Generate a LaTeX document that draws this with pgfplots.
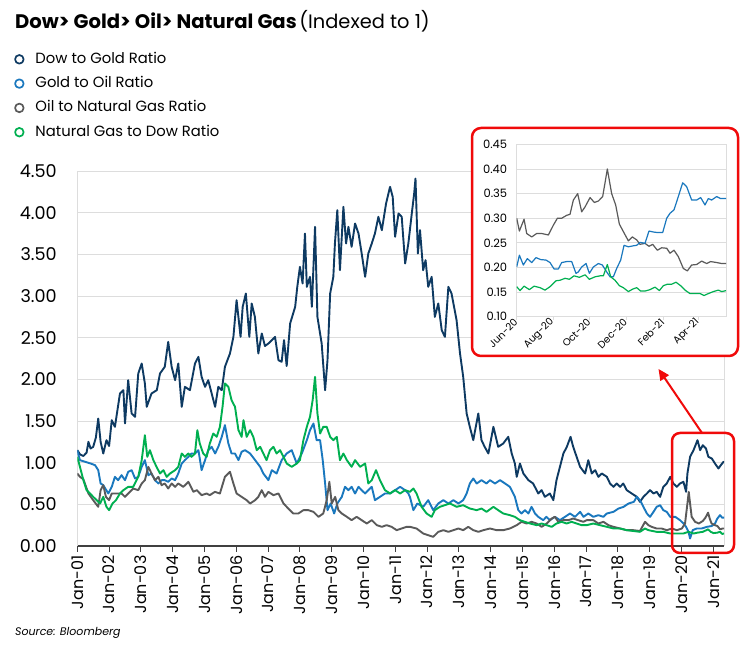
\documentclass[border=0pt]{standalone}
\usepackage{fontspec}
\setmainfont{Poppins}
\usepackage{pgfplots}
\pgfplotsset{compat=1.18}
\usetikzlibrary{arrows.meta}
\definecolor{navy}{HTML}{0E3A62}
\definecolor{gblue}{HTML}{1A78BE}
\definecolor{ggray}{HTML}{5A5A5A}
\definecolor{ggreen}{HTML}{00AF50}
\definecolor{gridc}{HTML}{DDDDDD}
\definecolor{redc}{HTML}{F00A0A}
\begin{document}
\begin{tikzpicture}
\useasboundingbox (0pt,0pt) rectangle (750pt,648pt);
\node[anchor=base west, inner sep=0pt] at (15pt,619.7pt) {{\bfseries\fontsize{19.6}{22}\selectfont Dow> Gold> Oil> Natural Gas} {\fontsize{19.4}{22}\selectfont(Indexed to 1)}};
\node[anchor=base west, inner sep=0pt] at (15pt,12pt) {\fontsize{11}{13}\selectfont\itshape Source: Bloomberg};
\begin{axis}[
  at={(77.3pt,102pt)}, anchor=south west, scale only axis,
  width=646.7pt, height=375pt,
  xmin=0, xmax=244, ymin=0, ymax=4.5,
  /pgf/number format/assume math mode=true,
  axis x line*=bottom, axis y line*=left,
  x axis line style={black!75, line width=1.2pt},
  y axis line style={gridc, line width=0.9pt},
  ytick={0,0.5,...,4.5},
  yticklabel={\pgfmathprintnumber[fixed,fixed zerofill,precision=2]{\tick}},
  yticklabel style={font=\fontsize{17.6}{20}\selectfont, xshift=-11pt},
  ytick style={draw=none},
  ymajorgrids, major grid style={gridc, line width=0.9pt},
  xtick={0,12,...,240},
  xticklabels={Jan-01,Jan-02,Jan-03,Jan-04,Jan-05,Jan-06,Jan-07,Jan-08,Jan-09,Jan-10,Jan-11,Jan-12,Jan-13,Jan-14,Jan-15,Jan-16,Jan-17,Jan-18,Jan-19,Jan-20,Jan-21},
  xticklabel style={rotate=90, anchor=east, font=\fontsize{16}{18}\selectfont},
  xtick style={black!75, line width=1pt},
  tick align=outside, major tick length=6pt,
  extra x ticks={244}, extra x tick labels={},
  extra x tick style={xmajorgrids=true, major tick length=0pt, major grid style={gridc, line width=0.9pt}},
  legend style={at={(-0.0979,1.317)}, anchor=north west, draw=none, fill=none, inner sep=0pt, row sep=10.3pt,
    font=\fontsize{14.8}{16}\selectfont, nodes={inner sep=0pt, text height=11pt, text depth=3pt},
    /tikz/every odd column/.append style={column sep=11pt}},
  legend cell align=left,
  legend image code/.code={\draw[line width=1.7pt] (5pt,0pt) circle (4.3pt);},
  every axis plot/.append style={line width=1.9pt, line join=round},
]
\addplot[navy, mark=none] table {
0 1.15
1 1.10
2.3 1.08
3.5 1.12
4.2 1.25
5 1.17
6 1.19
7 1.30
7.9 1.53
8.8 1.25
9.8 1.11
11 1.27
12 1.20
13 1.51
14.2 1.43
15 1.60
16.1 1.83
17.4 1.87
18 1.47
19.2 1.99
20.5 1.59
21.8 1.55
23 2.07
24.3 2.19
25.5 1.95
26.2 1.67
28 1.83
30 1.87
31.2 2.07
33 2.15
34.3 2.45
35.6 2.15
36.9 1.99
38.1 2.19
39.4 1.67
40.6 1.91
42.5 1.87
44.4 2.19
45.7 2.27
46.9 2.03
48.2 1.91
49.4 1.99
50.7 1.83
52 1.67
53.2 1.91
54.5 1.87
55.7 2.15
57.6 2.31
58.9 2.51
60.1 2.95
61.6 2.51
62.4 2.87
63.6 3.03
64.9 2.51
65.8 2.91
67 2.75
68.3 2.31
69.6 2.55
70.8 2.40
72.1 2.43
73.4 2.47
74.6 2.51
75.9 2.23
77.1 2.21
78 2.47
79 2.16
80.3 2.67
82.2 2.87
83 3.11
84 3.35
85 3.15
85.9 3.75
86.6 3.11
87.8 3.23
88.5 2.87
89.7 3.83
90.6 2.75
92.2 2.43
93.5 1.87
94.4 2.23
95.4 3.03
96.6 3.23
97.2 3.63
98.1 4.03
99.1 3.31
100.4 4.07
101.4 3.63
102.3 3.83
103.5 3.59
104.8 3.87
106.1 3.75
107.3 3.51
108.6 3.23
109.8 3.51
111.1 3.63
112.3 3.75
113.6 3.95
114.9 3.79
116.5 4.11
118 4.31
119 4.19
119.9 3.71
121.2 3.99
122.4 3.95
123.7 3.39
124.9 3.63
126.2 3.99
127.1 4.23
127.6 4.41
128.5 3.51
129.3 3.79
130.5 3.31
131.4 3.43
132.4 3.11
133.7 3.23
134.9 2.75
136.2 2.91
137.5 2.59
138.7 2.51
140 3.11
141.2 3.03
143.1 2.71
144.4 2.31
145.6 2.03
146.9 1.59
148.1 1.43
149.4 1.27
151.3 1.59
152.5 1.27
153.7 1.19
155.1 1.11
157 1.43
158.8 1.19
160.7 1.23
162.6 1.31
163.9 1.11
165.1 0.99
165.8 0.83
167 0.99
168.3 0.87
170.2 0.79
172 0.75
173.9 0.63
175.2 0.67
176.4 0.59
178.3 0.63
179.6 0.55
180.8 0.79
182.1 0.95
183.4 1.11
184.7 1.19
186.1 1.31
187.1 1.19
188.4 1.07
189.7 0.95
191.6 0.87
192.8 1.03
194.1 0.87
195.4 0.91
196.6 0.83
197.9 0.87
199.8 0.83
201 0.75
202.3 0.71
203.5 0.75
204.8 0.71
206 0.75
207.3 0.67
209.2 0.63
211.1 0.59
212.3 0.53
213.6 0.59
214.9 0.63
216.1 0.67
217.4 0.63
218.6 0.65
219.9 0.59
221.1 0.71
222.4 0.75
223.7 0.83
224.9 0.75
226.2 0.71
227.4 0.75
228.7 0.77
229.7 0.65
230.2 0.87
231.2 1.07
232.5 1.15
234 1.27
235 1.15
236 1.21
237.2 1.17
238.1 1.07
239.4 1.05
240.6 0.99
241.9 0.93
242.8 0.97
243.8 1.01
244 1.00
};
\addlegendentry{Dow to Gold Ratio}
\addplot[gblue, mark=none] table {
0 1.15
1 1.03
3 1.01
5 0.99
6.7 0.97
7.9 0.91
8.8 0.75
9.8 0.73
11.7 0.63
13 0.71
14.2 0.83
15.4 0.79
16.7 0.85
18 0.79
19.2 0.89
20.5 0.91
21.8 0.81
23 0.83
24.3 0.95
25.5 1.03
26.8 0.85
28 0.87
29.3 0.79
30.6 0.75
31.8 0.79
33 0.79
34.3 0.77
35.6 0.81
36.9 0.79
38.1 0.87
39.4 0.99
40.6 1.03
41.9 1.07
43.1 1.11
44.4 1.11
45.7 1.15
46.9 0.91
48.2 1.03
49.4 1.15
50.7 1.19
52 1.11
53.2 1.19
54.5 1.31
55.7 1.45
57 1.23
58.2 1.11
59.5 1.11
60.8 1.03
62 1.13
63.3 1.15
65.2 1.11
67.1 1.03
69 0.95
70.2 0.87
72.1 0.79
73.4 0.91
75.2 0.87
77.1 1.03
79 1.11
80.9 1.15
82.8 0.99
84.7 1.11
86.6 1.27
87.8 1.39
89.1 1.47
90.3 1.27
91.6 1.27
92.6 1.03
93.5 0.75
94.4 0.43
95.6 0.51
96.9 0.39
98.1 0.51
99.8 0.59
101 0.71
102.3 0.67
103.5 0.71
104.8 0.63
106.1 0.71
107.3 0.67
108.6 0.63
109.8 0.67
111.1 0.71
112.3 0.55
114.2 0.59
116.1 0.63
118 0.63
119.9 0.67
121.8 0.71
123.7 0.67
124.9 0.63
125.5 0.59
126.8 0.43
128.3 0.51
130.5 0.47
132.4 0.55
134.3 0.43
136.2 0.51
138.1 0.55
140 0.51
141.9 0.55
143.8 0.51
145.6 0.55
146.9 0.63
148.1 0.75
149.4 0.81
150.7 0.75
152.5 0.79
154.4 0.75
155.7 0.79
157.6 0.75
159.5 0.79
161.4 0.75
163.2 0.71
165.1 0.59
166.4 0.43
167.6 0.39
168.9 0.43
170.2 0.39
171.4 0.47
172.7 0.39
173.9 0.35
175.8 0.31
177 0.35
178.3 0.31
180.2 0.35
182.1 0.31
184 0.35
185.9 0.39
187.8 0.35
189.7 0.41
191 0.35
192.8 0.39
194.7 0.35
196.6 0.37
198.5 0.35
199.8 0.39
202.3 0.41
204.2 0.45
206.1 0.47
208 0.51
210 0.53
211.1 0.59
212.3 0.55
213.6 0.47
214.9 0.39
216.1 0.35
217.4 0.41
218.6 0.47
219.9 0.49
221.1 0.43
222.4 0.41
223.7 0.35
225.6 0.35
227.4 0.31
228.7 0.27
229.7 0.23
230.6 0.17
231.2 0.09
232.2 0.19
233.7 0.21
235.6 0.21
237.5 0.23
239.4 0.24
240.6 0.27
241.5 0.33
242.5 0.37
243.3 0.34
244 0.34
};
\addlegendentry{Gold to Oil Ratio}
\addplot[ggray, mark=none] table {
0 0.87
1 0.83
2.3 0.80
4.2 0.63
6 0.55
7.9 0.47
8.8 0.67
9.8 0.73
10.8 0.59
12 0.55
13 0.63
14.8 0.63
16.7 0.63
18 0.59
19.2 0.63
21.1 0.69
23 0.67
24.3 0.75
25.5 0.79
26.8 0.95
28 0.87
29.3 0.79
30.6 0.83
31.8 0.73
33 0.75
34.3 0.69
35.6 0.75
36.9 0.71
38.1 0.75
40 0.71
41.9 0.77
43.8 0.65
45.1 0.67
46.9 0.61
48.8 0.63
50 0.61
51.9 0.65
53.8 0.63
55.7 0.83
57.6 0.89
58.9 0.75
60.1 0.63
62 0.59
63.9 0.55
65.2 0.51
67.1 0.55
68.3 0.59
69.6 0.67
70.8 0.59
72.1 0.65
74 0.61
75.9 0.63
77.8 0.51
79.6 0.45
81.5 0.39
83.4 0.39
85.3 0.43
87.2 0.43
89.1 0.41
91 0.35
92.8 0.39
94.1 0.55
95.1 0.77
96 0.51
97.3 0.59
98.5 0.43
99.8 0.39
101.7 0.35
103.5 0.31
105.4 0.35
107.3 0.31
109.2 0.27
111.1 0.31
113 0.25
114.9 0.23
116.7 0.25
118.6 0.23
120.5 0.19
122.4 0.21
124.3 0.23
125.5 0.23
128 0.21
130.5 0.15
132.4 0.13
134.3 0.11
136.2 0.17
138.1 0.19
140 0.17
141.9 0.19
143.8 0.21
145.6 0.19
147.5 0.23
149.4 0.19
151.3 0.17
153.2 0.19
155.7 0.21
158.2 0.19
160.7 0.19
163.2 0.21
165.8 0.25
167.6 0.29
169.5 0.27
171.4 0.29
173.3 0.27
175.2 0.23
177.1 0.27
179 0.33
180.2 0.35
181.5 0.29
183.4 0.31
185.3 0.31
187.1 0.33
189 0.31
190.9 0.29
192.2 0.31
194.7 0.31
196.6 0.27
198.5 0.29
200.4 0.25
202.3 0.23
204.8 0.21
207.3 0.19
209.8 0.19
212.3 0.18
214.2 0.29
215.5 0.25
216.7 0.23
218.6 0.21
220.5 0.21
222.4 0.19
224.3 0.21
226.2 0.19
228.1 0.21
229.3 0.27
230.2 0.51
230.7 0.65
231.2 0.51
231.8 0.35
233.1 0.29
234.5 0.27
236 0.30
237 0.34
238 0.40
238.6 0.33
239.3 0.27
240.5 0.25
241.5 0.24
242.5 0.20
243.5 0.21
244 0.21
};
\addlegendentry{Oil to Natural Gas Ratio}
\addplot[ggreen, mark=none] table {
0 1.07
1 0.95
2.3 0.79
3.5 0.67
4.8 0.63
6 0.59
7.3 0.55
8.6 0.51
9.8 0.59
11 0.47
12 0.43
13.3 0.51
14.6 0.55
16.1 0.63
17.4 0.67
19.2 0.71
21.1 0.71
23 0.83
24.3 1.03
25.5 1.33
26.4 1.07
27.4 1.15
28.7 1.03
29.9 0.95
31.2 0.87
32.5 0.91
33.7 0.83
35 0.87
36.9 0.91
38.1 0.95
39.4 1.11
40.6 1.07
41.9 1.11
43.1 1.07
44.4 1.11
45.3 1.39
46.2 1.23
47.5 1.11
48.8 1.07
50 1.23
51.3 1.35
52.6 1.31
53.8 1.43
54.8 1.67
55.7 1.95
57 1.91
58.2 1.75
59.5 1.67
60.8 1.39
62 1.31
62.7 1.51
63.9 1.31
65.2 1.39
66.4 1.31
67.7 1.15
69 1.19
70.2 1.11
71.4 1.03
72.7 1.15
74 1.19
75.2 1.11
76.5 1.15
77.8 1.07
79 0.99
80.9 0.95
82.8 0.99
84 1.03
85.3 1.27
86.6 1.43
87.8 1.55
88.8 1.75
89.7 2.03
90.6 1.59
91.6 1.35
92.8 1.43
94.1 1.43
95.4 1.31
96.6 1.27
97.9 1.31
99.1 1.03
100.4 1.11
101.7 1.03
103.5 0.95
104.8 1.03
106.7 0.95
108.6 0.99
109.8 0.75
111.1 0.79
112.7 0.91
114.2 0.79
116.1 0.67
118 0.63
119.9 0.67
121.8 0.63
123.7 0.67
125.5 0.65
126.8 0.69
128 0.63
129.9 0.47
131.8 0.39
133.7 0.35
134.9 0.43
136.8 0.47
138.7 0.49
140.6 0.51
143.1 0.47
145.6 0.49
148.1 0.45
150.7 0.43
152.5 0.45
154.4 0.41
157 0.47
158.8 0.43
160.7 0.39
163.2 0.37
165.1 0.35
167 0.31
168.9 0.29
170.8 0.27
173.3 0.25
175.2 0.27
177.1 0.25
179 0.23
180.8 0.27
182.7 0.29
184.6 0.27
186.5 0.29
188.4 0.27
190.3 0.25
192.2 0.25
194.7 0.27
197.2 0.25
199.8 0.23
202.3 0.21
204.8 0.21
207.3 0.19
209.8 0.18
212.3 0.17
214.2 0.21
215.5 0.19
218.6 0.17
221.1 0.17
223.7 0.15
226.2 0.15
228.7 0.15
230.6 0.17
232.5 0.15
234 0.16
236 0.17
238 0.20
239 0.17
240 0.155
241.5 0.16
242.5 0.17
243.3 0.145
244 0.15
};
\addlegendentry{Natural Gas to Dow Ratio}
\end{axis}
% inset frame
\draw[redc, line width=2.5pt, rounded corners=9pt, fill=white] (472pt,292pt) rectangle (738pt,520pt);
\draw[redc, line width=2.5pt, rounded corners=8pt] (672pt,95pt) rectangle (734pt,215pt);
\draw[redc, line width=2pt, -{Triangle[length=11pt,width=10pt]}] (702pt,215pt) -- (658.5pt,279pt);
\begin{axis}[
  at={(516.7pt,331.3pt)}, anchor=south west, scale only axis,
  width=209.3pt, height=172.3pt,
  xmin=0, xmax=349.8, ymin=0.10, ymax=0.45,
  /pgf/number format/assume math mode=true,
  axis line style={gridc, line width=0.8pt},
  ytick={0.10,0.15,...,0.45},
  yticklabel={\pgfmathprintnumber[fixed,fixed zerofill,precision=2]{\tick}},
  yticklabel style={font=\fontsize{11.5}{14}\selectfont, xshift=-3pt},
  ytick style={draw=none},
  ymajorgrids, major grid style={gridc, line width=0.8pt},
  xtick={0,61,122,183,245,304},
  xticklabels={Jun-20,Aug-20,Oct-20,Dec-20,Feb-21,Apr-21},
  xticklabel style={rotate=45, anchor=east, font=\fontsize{10}{12}\selectfont, inner sep=1pt},
  xtick style={gridc, line width=0.8pt},
  tick align=outside, major tick length=3pt,
  xtick pos=bottom,
  every axis plot/.append style={line width=1.2pt, line join=round},
]
\addplot[ggray, mark=none] table {
0 0.30
4.5 0.274
12.3 0.298
16.7 0.269
25.1 0.262
33.4 0.269
41.8 0.269
52.9 0.266
61.3 0.286
68 0.30
75.2 0.30
83.6 0.306
89.1 0.308
94.7 0.337
101.9 0.35
108.6 0.313
114.2 0.323
122.6 0.342
129.8 0.332
136.5 0.335
143.7 0.344
151.5 0.40
158.7 0.35
165.4 0.327
171.6 0.288
178.2 0.273
186.6 0.254
193.3 0.262
200.5 0.256
206.1 0.247
214.4 0.249
221.1 0.243
227.3 0.247
235 0.235
242.3 0.24
250.7 0.239
256.2 0.229
262.9 0.235
270.1 0.222
278.5 0.198
285.2 0.193
292.4 0.205
300.8 0.206
309.1 0.213
317.5 0.208
324.2 0.212
334.2 0.21
342.6 0.208
349.8 0.208
};
\addplot[gblue, mark=none] table {
0 0.201
4.5 0.225
11.1 0.205
17.8 0.218
25.1 0.21
32.3 0.22
40.1 0.216
49 0.215
55.7 0.21
62.4 0.197
69.6 0.197
75.2 0.21
83.6 0.212
91.9 0.212
99.1 0.188
103 0.191
108.6 0.201
115.9 0.208
121.4 0.188
128.1 0.201
136.5 0.208
143.1 0.205
150.4 0.191
156 0.181
161.5 0.181
167.1 0.198
173.8 0.215
179.4 0.245
186.6 0.242
195 0.244
200.5 0.245
206.1 0.251
214.4 0.249
221.1 0.274
228.4 0.272
235 0.271
244 0.271
250.7 0.30
256.2 0.31
262.9 0.317
270.1 0.344
277.4 0.372
284.1 0.364
292.4 0.337
300.8 0.337
307.5 0.342
314.7 0.327
320.3 0.34
325.8 0.337
334.2 0.344
340.9 0.34
349.8 0.34
};
\addplot[ggreen, mark=none] table {
0 0.161
5.6 0.153
12.3 0.162
21.2 0.155
29 0.162
39 0.159
47.3 0.154
55.7 0.161
65.7 0.173
72.4 0.174
80.8 0.178
88 0.176
95.8 0.183
104.7 0.18
114.2 0.185
121.4 0.176
130.9 0.181
139.3 0.183
144.8 0.183
151.5 0.206
157.1 0.181
164.3 0.174
171.6 0.163
178.2 0.159
186.6 0.151
193.8 0.156
200.5 0.159
207.2 0.152
214.4 0.152
222.8 0.155
231.2 0.16
238.4 0.153
245.1 0.163
251.8 0.166
259 0.166
266.2 0.17
274 0.163
281.3 0.154
289.6 0.147
298 0.147
306.4 0.147
313 0.143
320.3 0.147
328.6 0.151
337 0.154
342.6 0.151
349.8 0.153
};
\end{axis}
\end{tikzpicture}
\end{document}
